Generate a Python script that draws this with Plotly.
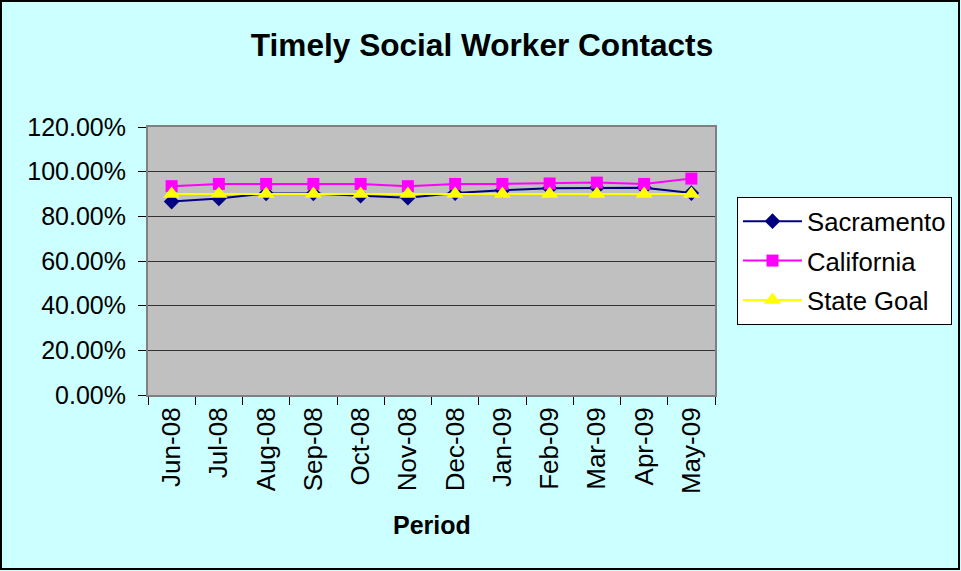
import plotly.graph_objects as go

periods = ["Jun-08", "Jul-08", "Aug-08", "Sep-08", "Oct-08", "Nov-08",
           "Dec-08", "Jan-09", "Feb-09", "Mar-09", "Apr-09", "May-09"]
sacramento = [0.866, 0.880, 0.902, 0.902, 0.892, 0.883, 0.904, 0.917, 0.926, 0.928, 0.928, 0.904]
california = [0.935, 0.945, 0.945, 0.945, 0.945, 0.935, 0.945, 0.945, 0.947, 0.951, 0.945, 0.969]
state_goal = [0.90] * 12

FONT = "Liberation Sans, Arial, sans-serif"

fig = go.Figure()
fig.add_trace(go.Scatter(x=periods, y=sacramento, name="Sacramento", mode="lines+markers",
                         line=dict(color="#000080", width=2),
                         marker=dict(symbol="diamond", size=12, color="#000080"),
                         legendgroup="a"))
fig.add_trace(go.Scatter(x=periods, y=california, name="California", mode="lines+markers",
                         line=dict(color="#FF00FF", width=2),
                         marker=dict(symbol="square", size=12, color="#FF00FF"),
                         legendgroup="b"))
fig.add_trace(go.Scatter(x=periods, y=state_goal, name="State Goal", mode="lines+markers",
                         line=dict(color="#FFFF00", width=2),
                         marker=dict(symbol="triangle-up", size=15, color="#FFFF00"),
                         legendgroup="c"))

fig.update_layout(
    width=961, height=571,
    margin=dict(l=148, r=246, t=127, b=176, autoexpand=False),
    paper_bgcolor="#CCFFFF",
    plot_bgcolor="#C0C0C0",
    font=dict(family=FONT, size=25, color="black"),
    title=dict(text="<b>Timely Social Worker Contacts</b>", font=dict(size=31.6, family=FONT),
               x=0.5016, xref="container", xanchor="center",
               y=1 - 45 / 571, yref="container", yanchor="middle"),
    showlegend=True,
    legend=dict(x=1.0388, xanchor="left", y=0.739, yanchor="top",
                bgcolor="white", bordercolor="black", borderwidth=1,
                font=dict(size=25.7, family=FONT), itemwidth=59,
                traceorder="grouped", tracegroupgap=3),
    xaxis=dict(type="category", range=[-0.5, len(periods) - 0.5],
               tickangle=-90, tickson="boundaries",
               ticks="outside", ticklen=8, tickcolor="black",
               showline=True, linecolor="#808080", linewidth=2, mirror=True,
               showgrid=False, tickfont=dict(size=26), automargin=False),
    yaxis=dict(range=[0, 1.2], dtick=0.2, tickformat=".2%",
               ticks="outside", ticklen=8, tickcolor="black",
               showline=True, linecolor="#808080", linewidth=2, mirror=True,
               showgrid=True, gridcolor="#333333", gridwidth=1, automargin=False,
               zeroline=False, ticklabelstandoff=7, tickfont=dict(size=25)),
    annotations=[dict(text="<b>Period</b>", xref="paper", yref="paper",
                      x=0.5, y=(395 - 525) / 268, xanchor="center", yanchor="middle",
                      showarrow=False, font=dict(size=25, family=FONT))],
    shapes=[dict(type="rect", xref="paper", yref="paper",
                 x0=(1 - 148) / 567, x1=(959 - 148) / 567,
                 y0=(395 - 569) / 268, y1=(395 - 1) / 268,
                 line=dict(color="black", width=2), layer="below")],
)

fig.write_html("out.html", config={"displayModeBar": False},
               post_script="document.body.style.margin='0';document.body.style.overflow='hidden';")
